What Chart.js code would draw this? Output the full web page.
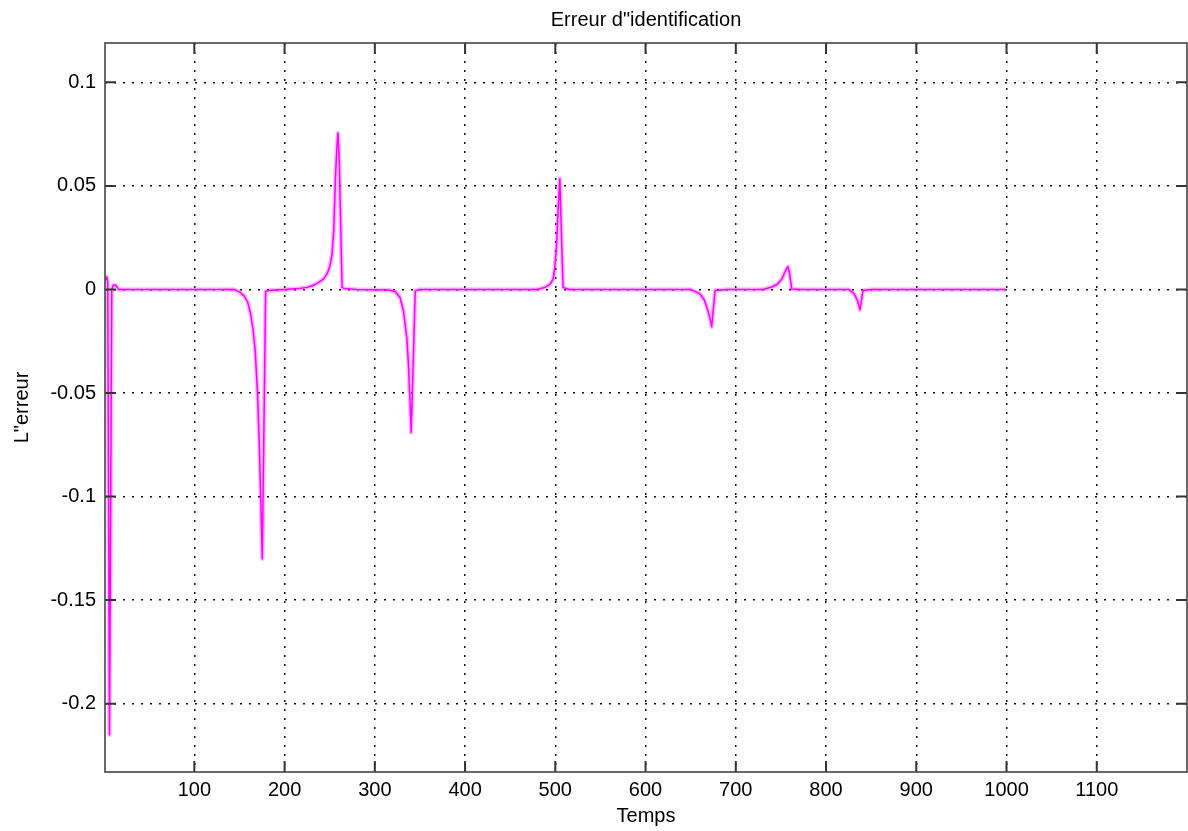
<!DOCTYPE html>
<html>
<head>
<meta charset="utf-8">
<script src="https://cdn.jsdelivr.net/npm/chart.js@4"></script>
<style>
  html, body { margin: 0; padding: 0; background: #fff; }
  #wrap { width: 1188px; height: 831px; }
</style>
</head>
<body>
<div id="wrap"><canvas id="erreurChart" width="1188" height="831"></canvas></div>
<script>
// Temps (x) et erreur (y)
const temps = [1, 3, 4, 6, 8.5, 10, 13, 16,
  144, 150, 155, 159, 162, 165, 167.5, 170, 172, 173.8, 175.3, 179, 182, 200,
  215, 225, 232, 238, 243, 247, 250, 252.6, 254.5, 256.3, 258, 259.2, 260.7, 263.7, 266, 280,
  315, 322.6, 328, 331.8, 335.5, 337.3, 339.2, 340.3, 344.8, 350,
  480, 488.4, 494, 497.6, 499.4, 501.2, 503, 505, 506.7, 508.6, 515,
  650, 660, 665, 669, 671.5, 673.3, 677, 690,
  730, 740, 746, 751, 754, 756.5, 758, 759.5, 762, 770,
  825, 831, 835, 837.6, 841, 850,
  1000];
const erreur = [0.004, 0.006, 0.004, -0.215, 0.000, 0.002, 0.002, 0,
  0, -0.0012, -0.003, -0.006, -0.011, -0.019, -0.03, -0.05, -0.075, -0.105, -0.130, -0.001, -0.0005, 0,
  0.0004, 0.001, 0.002, 0.0035, 0.005, 0.0075, 0.011, 0.017, 0.0286, 0.053, 0.069, 0.0755, 0.061, 0.001, 0.0005, 0,
  -0.0003, -0.001, -0.004, -0.0104, -0.0235, -0.0366, -0.056, -0.069, -0.0007, 0,
  0, 0.001, 0.0025, 0.005, 0.0105, 0.02, 0.037, 0.0535, 0.028, 0.001, 0,
  0, -0.002, -0.005, -0.01, -0.014, -0.018, -0.0005, 0,
  0, 0.0012, 0.0025, 0.005, 0.008, 0.0102, 0.011, 0.008, 0.0002, 0,
  0, -0.002, -0.0055, -0.0098, -0.0005, 0,
  0];

const xTicks = [100, 200, 300, 400, 500, 600, 700, 800, 900, 1000, 1100];
const yTicks = [-0.2, -0.15, -0.1, -0.05, 0, 0.05, 0.1];

const points = temps.map((t, i) => ({ x: t, y: erreur[i] }));
const FONT = "'Liberation Sans', Arial, sans-serif";

// cadre + graduations vers l'intérieur (style MATLAB)
const frameTicks = {
  id: "frameTicks",
  afterDatasetsDraw(chart) {
    const { ctx, chartArea: a, scales } = chart;
    const len = 11;
    ctx.save();
    ctx.strokeStyle = "#333";
    ctx.lineWidth = 2;
    ctx.beginPath();
    xTicks.forEach(v => {
      const px = scales.x.getPixelForValue(v);
      ctx.moveTo(px, a.bottom); ctx.lineTo(px, a.bottom - len);
      ctx.moveTo(px, a.top); ctx.lineTo(px, a.top + len);
    });
    yTicks.forEach(v => {
      const py = scales.y.getPixelForValue(v);
      ctx.moveTo(a.left, py); ctx.lineTo(a.left + len, py);
      ctx.moveTo(a.right, py); ctx.lineTo(a.right - len, py);
    });
    ctx.stroke();
    ctx.lineWidth = 1.6;
    ctx.strokeStyle = "#444";
    ctx.strokeRect(a.left, a.top, a.right - a.left, a.bottom - a.top);
    ctx.restore();
  }
};

new Chart(document.getElementById("erreurChart").getContext("2d"), {
  type: "scatter",
  data: {
    datasets: [
      {
        data: points,
        showLine: true,
        borderColor: "rgba(255,0,255,0.28)",
        borderWidth: 4.5,
        borderJoinStyle: "round",
        pointRadius: 0,
        tension: 0,
      },
      {
        data: points,
        showLine: true,
        borderColor: "#ff00ff",
        borderWidth: 1.5,
        borderJoinStyle: "round",
        pointRadius: 0,
        tension: 0,
      },
    ],
  },
  options: {
    responsive: false,
    animation: false,
    layout: { padding: { left: 0, right: 1, top: 0, bottom: 0 } },
    plugins: {
      legend: { display: false },
      tooltip: { enabled: false },
      title: {
        display: true,
        text: "Erreur d\"identification",
        fullSize: false,
        color: "#000",
        font: { family: FONT, size: 20, weight: "normal" },
        padding: { top: 8, bottom: 11 },
      },
    },
    scales: {
      x: {
        type: "linear",
        min: 1,
        max: 1200,
        afterBuildTicks: (s) => { s.ticks = xTicks.map(v => ({ value: v })); },
        afterFit: (s) => { s.height = 59; },
        ticks: {
          color: "#000",
          font: { family: FONT, size: 20 },
          padding: 6,
          maxRotation: 0,
          autoSkip: false,
          callback: (v) => String(v),
        },
        grid: { color: "#111", lineWidth: 1.5, drawTicks: false },
        border: { display: false, dash: [2, 7] },
        title: {
          display: true,
          text: "Temps",
          color: "#000",
          font: { family: FONT, size: 20 },
          padding: { top: 0, bottom: 3 },
        },
      },
      y: {
        type: "linear",
        min: -0.233,
        max: 0.119,
        afterBuildTicks: (s) => { s.ticks = yTicks.map(v => ({ value: v })); },
        afterFit: (s) => { s.width = 105; },
        ticks: {
          color: "#000",
          font: { family: FONT, size: 20 },
          padding: 9,
          autoSkip: false,
          callback: (v) => String(v),
        },
        grid: { color: "#111", lineWidth: 1.5, drawTicks: false },
        border: { display: false, dash: [2, 7] },
        title: {
          display: true,
          text: "L\"erreur",
          color: "#000",
          font: { family: FONT, size: 20 },
          padding: { top: 10, bottom: 0 },
        },
      },
    },
  },
  plugins: [frameTicks],
});
</script>
</body>
</html>
